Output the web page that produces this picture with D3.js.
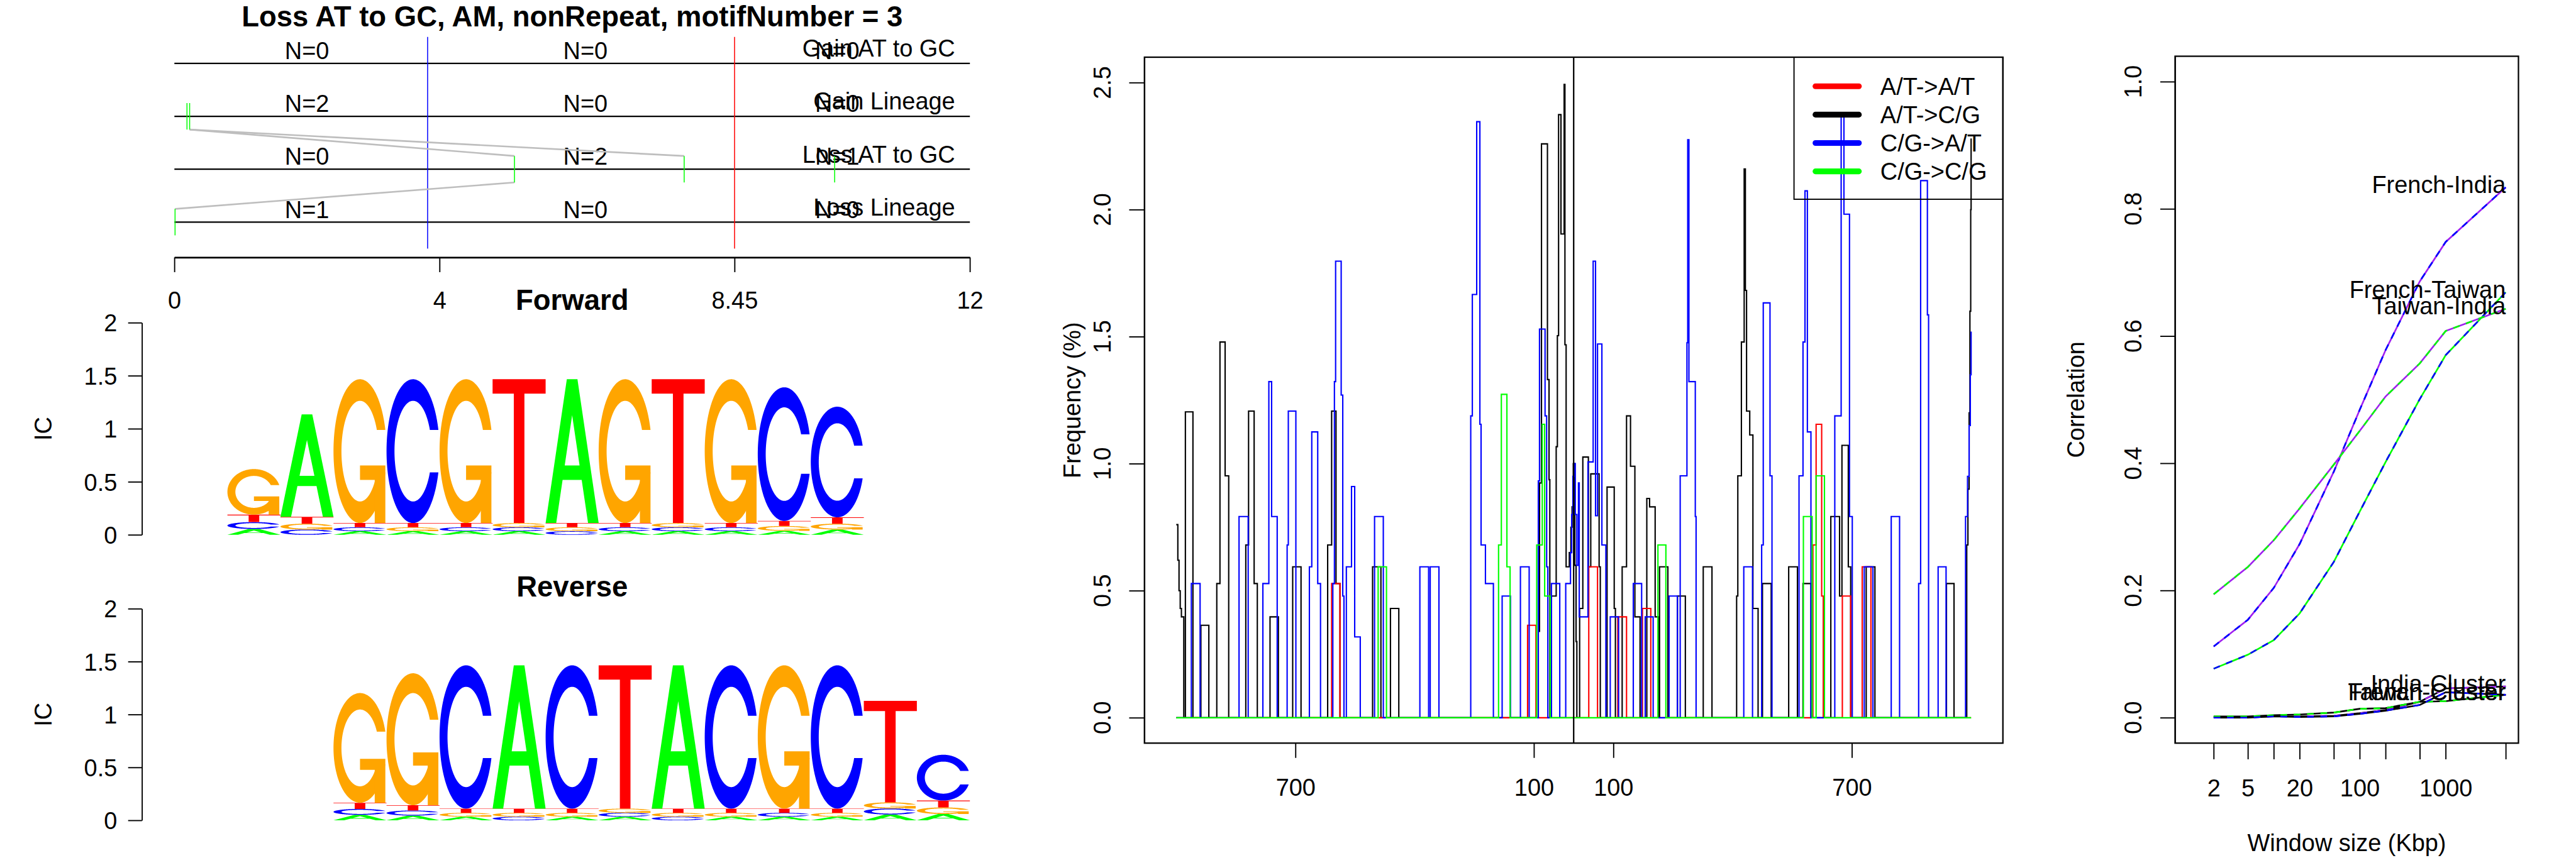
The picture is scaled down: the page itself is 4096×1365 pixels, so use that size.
<!DOCTYPE html>
<html>
<head>
<meta charset="utf-8">
<script src="https://cdn.jsdelivr.net/npm/d3@7"></script>
<style>
  html, body { margin: 0; padding: 0; background: #ffffff; }
  svg { display: block; }
  text { font-family: "Liberation Sans", Arial, Helvetica, sans-serif; fill: #000; }
</style>
</head>
<body>
<svg id="chart" width="4096" height="1365" viewBox="0 0 5400 1800"></svg>
<script>
// ===================== DATA =====================
// Panel 1: motif events
const mainTitle = "Loss AT to GC, AM, nonRepeat, motifNumber = 3";
const eventRows = ["Gain AT to GC", "Gain Lineage", "Loss AT to GC", "Loss Lineage"];
const eventCounts = [[0, 0, 0], [2, 0, 0], [0, 2, 1], [1, 0, 0]];
const eventPositions = [[], [0.19, 0.23], [5.13, 7.69, 9.96], [0.01]];
const eventLinks = [[1, 0.23, 2, 5.13], [1, 0.23, 2, 7.69], [2, 5.13, 3, 0.01]];
const eventAxisTicks = [0, 4, 8.45, 12];
const boundaryBlue = 3.82;
const boundaryRed = 8.45;

// Panel 1: sequence logos (information content per base, 12 positions)
const logoTicks = [0, 0.5, 1, 1.5, 2];
const fwdA = [0.055, 0.965, 0.034, 0.034, 0.034, 0.034, 1.356, 0.034, 0.034, 0.034, 0.038, 0.050];
const fwdC = [0.065, 0.050, 0.037, 1.356, 0.037, 0.037, 0.034, 0.037, 0.037, 0.037, 1.260, 1.043];
const fwdG = [0.430, 0.055, 1.356, 0.037, 1.356, 0.040, 0.037, 1.356, 0.040, 1.356, 0.045, 0.055];
const fwdT = [0.070, 0.065, 0.040, 0.040, 0.040, 1.356, 0.040, 0.040, 1.356, 0.040, 0.048, 0.060];
const revA = [0.052, 0.045, 0.034, 1.354, 0.034, 0.034, 1.354, 0.034, 0.034, 0.034, 0.055, 0.060];
const revC = [0.056, 0.048, 1.354, 0.034, 1.354, 0.037, 0.034, 1.354, 0.037, 1.354, 0.057, 0.433];
const revG = [1.037, 1.247, 0.037, 0.037, 0.037, 0.040, 0.037, 0.037, 1.354, 0.037, 0.058, 0.062];
const revT = [0.058, 0.050, 0.040, 0.040, 0.040, 1.354, 0.040, 0.040, 0.040, 0.040, 0.959, 0.065];

// Panel 2: frequency step series  [position, frequency %]
const freqLabels = ["A/T->A/T", "A/T->C/G", "C/G->A/T", "C/G->C/G"];
const freqYTicks = [0, 0.5, 1, 1.5, 2, 2.5];
const freqXTicks = [-700, -100, 100, 700];
const stepsATtoAT = [[-1000,0],[-609,0.528],[-588,0],[-116,0.364],[-95,0],[38,0.594],[60,0],[111,0.397],[133,0],[173,0.43],[194,0],[602,0.68],[610,1.155],[624,0.479],[628,0],[676,0.479],[697,0],[726,0.594],[748,0],[1000,0]];
const stepsATtoCG = [[-1000,0.76],[-996,0.62],[-993,0.5],[-990,0.43],[-987,0.397],[-981,0],[-977,1.204],[-958,0],[-938,0.364],[-918,0],[-898,0.528],[-890,1.479],[-877,0.952],[-868,0],[-825,0.68],[-818,1.207],[-804,0.528],[-796,0],[-764,0.397],[-743,0],[-707,0.594],[-686,0],[-619,0.68],[-609,1.207],[-598,0.528],[-588,0],[-506,0.594],[-485,0],[-461,0.43],[-440,0],[-89,0.34],[-86,0.924],[-81,2.259],[-66,1.331],[-62,0.937],[-60,0],[-56,0.479],[-44,1.067],[-41,1.504],[-38,2.374],[-32,1.904],[-24,2.493],[-22,1.468],[-19,0.594],[-11,0.65],[-7,0.75],[-4,0.83],[-1,1.0],[3,0.6],[6,0.3],[8,0],[15,0.43],[23,1.026],[37,0.594],[43,0.96],[64,0.594],[67,0],[84,0.908],[102,0.43],[105,0],[122,0.594],[133,1.188],[143,0.99],[154,0.397],[167,0],[184,0.863],[191,0.83],[205,0.397],[213,0],[216,0.594],[237,0],[261,0.479],[281,0],[326,0.594],[348,0],[410,0.479],[413,0.952],[422,1.479],[429,2.16],[432,1.682],[435,1.207],[443,1.113],[451,0.43],[464,0],[475,0.528],[497,0],[541,0.594],[563,0],[577,0.528],[597,0],[647,0.792],[669,0.479],[675,1.072],[691,0.594],[697,0],[736,0.594],[758,0],[938,0.528],[957,0],[989,0.68],[992,0.9],[995,1.2],[997,1.6],[999,2.0],[1000,2.28]];
const stepsCGtoAT = [[-1000,0],[-962,0.528],[-940,0],[-842,0.792],[-819,0],[-782,0.528],[-767,1.323],[-760,0.792],[-746,0],[-721,0.68],[-718,1.207],[-699,0],[-665,0.594],[-659,1.125],[-644,0.528],[-637,0],[-606,0.528],[-602,1.323],[-599,1.797],[-585,1.27],[-581,0.479],[-578,0],[-572,0.594],[-559,0.91],[-551,0.318],[-537,0],[-501,0.792],[-479,0],[-387,0.594],[-365,0],[-361,0.594],[-339,0],[-259,1.188],[-255,1.666],[-244,2.346],[-236,1.155],[-233,0.68],[-222,0.528],[-202,0],[-180,0.479],[-159,0],[-134,0.594],[-112,0],[-89,0.932],[-86,1.53],[-72,1.188],[-68,0.594],[-65,0],[-56,0.528],[-35,0],[-20,0.528],[-8,0.65],[-5,0.8],[-2,0.95],[1,1.0],[4,0.8],[8,0.6],[12,0.924],[14,0.397],[36,1.007],[49,1.797],[55,0.795],[60,1.471],[71,0.68],[81,0],[92,0.397],[113,0],[150,0.528],[171,0],[180,0.397],[200,0],[240,0.479],[261,0],[268,0.952],[285,1.476],[287,2.275],[290,1.323],[306,0.792],[308,0],[428,0.594],[450,0],[473,0.68],[477,1.633],[494,0.952],[499,0],[567,0.952],[577,1.479],[582,2.074],[588,1.125],[597,0],[657,1.188],[673,2.382],[680,1.982],[694,0.792],[701,0],[731,0.594],[753,0],[799,0.792],[820,0],[868,0.528],[873,2.114],[890,1.586],[893,0],[917,0.594],[937,0],[986,0.792],[991,0.95],[995,1.15],[998,1.35],[1000,1.52]];
const stepsCGtoCG = [[-1000,0],[-492,0.594],[-471,0],[-189,0.68],[-182,1.273],[-168,0.594],[-160,0],[-93,0.68],[-79,1.155],[-73,0.479],[-59,0],[212,0.68],[232,0],[578,0.792],[600,0],[610,0.952],[631,0],[1000,0]];

// Panel 3: correlation vs window size
const windowSizes = [2, 5, 10, 20, 50, 100, 200, 500, 1000, 5000];
const windowTickLabels = [2, 5, 20, 100, 1000];
const corrYTicks = [0, 0.2, 0.4, 0.6, 0.8, 1.0];
const corrFrenchIndia   = [0.112, 0.154, 0.204, 0.273, 0.387, 0.484, 0.578, 0.686, 0.748, 0.834];
const corrFrenchTaiwan  = [0.077, 0.099, 0.122, 0.164, 0.245, 0.324, 0.402, 0.501, 0.570, 0.669];
const corrTaiwanIndia   = [0.194, 0.237, 0.279, 0.329, 0.398, 0.451, 0.505, 0.557, 0.608, 0.643];
const corrIndiaCluster  = [0.001, 0.001, 0.002, 0.002, 0.003, 0.007, 0.012, 0.025, 0.046, 0.049];
const corrTaiwanCluster = [0.002, 0.002, 0.004, 0.005, 0.008, 0.014, 0.015, 0.025, 0.026, 0.036];
const corrFrenchCluster = [0.000, 0.000, 0.002, 0.001, 0.002, 0.006, 0.011, 0.020, 0.040, 0.036];

// ===================== DRAWING =====================
const FONT = "'Liberation Sans', Arial, Helvetica, sans-serif";
const svg = d3.select("#chart");
svg.append("rect").attr("x", 0).attr("y", 0).attr("width", 5400).attr("height", 1800).attr("fill", "#fff");

function styleAxis(g, fs) {
  g.attr("font-family", FONT).attr("font-size", fs);
  g.selectAll(".tick line").attr("stroke", "#000").attr("stroke-width", 2.5);
  g.selectAll(".domain").attr("stroke", "#000").attr("stroke-width", 2.5);
  g.selectAll("text").attr("fill", "#000");
}

// ---------- Panel 1: events ----------
const px = d3.scaleLinear().domain([0, 12]).range([365, 2033]);
const rowY = d3.scaleLinear().domain([0, 3]).range([133, 466]);
const g1 = svg.append("g");

g1.append("text").attr("x", (px(0) + px(12)) / 2).attr("y", 55)
  .attr("text-anchor", "middle").attr("font-weight", "bold").attr("font-size", 60).text(mainTitle);

eventRows.forEach((name, r) => {
  g1.append("line").attr("x1", px(0)).attr("x2", px(12)).attr("y1", rowY(r)).attr("y2", rowY(r))
    .attr("stroke", "#000").attr("stroke-width", 3);
});
[[boundaryBlue, "#0000FF"], [boundaryRed, "#FF0000"]].forEach(([v, c]) => {
  g1.append("line").attr("x1", px(v)).attr("x2", px(v)).attr("y1", rowY(-0.5)).attr("y2", rowY(3.5))
    .attr("stroke", c).attr("stroke-width", 2);
});
const countLabelPos = [2, 6.2, 10];
eventCounts.forEach((row, r) => row.forEach((n, k) => {
  g1.append("text").attr("x", px(countLabelPos[k])).attr("y", rowY(r) - 9)
    .attr("text-anchor", "middle").attr("font-size", 50).text("N=" + n);
}));
eventRows.forEach((name, r) => {
  g1.append("text").attr("x", px(12) - 31).attr("y", rowY(r) - 14)
    .attr("text-anchor", "end").attr("font-size", 50).text(name);
});
eventLinks.forEach(([r1, x1, r2, x2]) => {
  g1.append("line").attr("x1", px(x1)).attr("y1", rowY(r1 + 0.25)).attr("x2", px(x2)).attr("y2", rowY(r2 - 0.25))
    .attr("stroke", "#BEBEBE").attr("stroke-width", 3.5);
});
eventPositions.forEach((arr, r) => arr.forEach(x => {
  g1.append("line").attr("x1", px(x)).attr("x2", px(x)).attr("y1", rowY(r - 0.25)).attr("y2", rowY(r + 0.25))
    .attr("stroke", "#00FF00").attr("stroke-width", 2);
}));
const ax1 = g1.append("g").attr("transform", "translate(0,540)")
  .call(d3.axisBottom(px).tickValues(eventAxisTicks).tickFormat(d => String(d)).tickSize(31).tickSizeOuter(0));
styleAxis(ax1, 50);
ax1.select(".domain").attr("stroke-width", 3.5);
ax1.selectAll("text").attr("y", 108).attr("dy", null);

// ---------- Panel 1: logos ----------
const baseColors = { A: "#00FF00", C: "#0000FF", G: "#FFA500", T: "#FF0000" };

function shapeA() {
  const xs = [0, 4, 6, 10, 8, 6.8, 3.2, 2, 0, 3.6, 5, 6.4, 3.6];
  const ys = [0, 10, 10, 0, 0, 3, 3, 0, 0, 4, 7.5, 4, 4];
  return [{ pts: xs.map((v, i) => [v / 10, ys[i] / 10]), rule: "evenodd" }];
}
function shapeT() {
  const xs = [0, 10, 10, 6, 6, 4, 4, 0];
  const ys = [10, 10, 9, 9, 0, 0, 9, 9];
  return [{ pts: xs.map((v, i) => [v / 10, ys[i] / 10]), rule: "nonzero" }];
}
function ringC() {
  const n = 100;
  const a1 = d3.range(n).map(k => 0.3 + Math.PI / 2 + (Math.PI / 2 - 0.3) * k / (n - 1));
  const a2 = d3.range(n).map(k => Math.PI + (Math.PI / 2) * k / (n - 1));
  const xl1 = a1.map(a => 0.5 + 0.5 * Math.sin(a)), yl1 = a1.map(a => 0.5 + 0.5 * Math.cos(a));
  const xl2 = a2.map(a => 0.5 + 0.5 * Math.sin(a)), yl2 = a2.map(a => 0.5 + 0.5 * Math.cos(a));
  const xl = xl1.concat(xl2), yl = yl1.concat(yl2);
  let x = xl.concat(xl.slice().reverse());
  let y = yl.concat(yl.slice().reverse().map(v => 1 - v));
  const maxY = d3.max(yl1);
  let xi1 = a1.map(a => 0.5 + 0.35 * Math.sin(a)), yi1 = a1.map(a => 0.5 + 0.35 * Math.cos(a));
  const keep = yi1.map(v => v <= maxY);
  xi1 = xi1.filter((_, i) => keep[i]); yi1 = yi1.filter((_, i) => keep[i]);
  yi1[0] = maxY;
  const xi2 = a2.map(a => 0.5 + 0.35 * Math.sin(a)), yi2 = a2.map(a => 0.5 + 0.35 * Math.cos(a));
  const xi = xi1.concat(xi2), yi = yi1.concat(yi2);
  const x1 = xi.concat(xi.slice().reverse());
  const y1 = yi.concat(yi.slice().reverse().map(v => 1 - v));
  x = x.concat(x1.slice().reverse()); y = y.concat(y1.slice().reverse());
  return { pts: x.map((v, i) => [v, y[i]]), r1: d3.max(xl1) };
}
function shapeC() { return [{ pts: ringC().pts, rule: "nonzero" }]; }
function shapeG() {
  const c = ringC(); const r1 = c.r1, h1 = 0.4;
  const xa = [r1, 0.5, 0.5, r1 - 0.2, r1 - 0.2, r1, r1];
  const ya = [h1, h1, h1 - 0.1, h1 - 0.1, 0, 0, h1];
  return [{ pts: c.pts, rule: "nonzero" }, { pts: xa.map((v, i) => [v, ya[i]]), rule: "nonzero" }];
}
const shapes = { A: shapeA(), C: shapeC(), G: shapeG(), T: shapeT() };

const lx = d3.scaleLinear().domain([0, 15]).range([365, 2033]);
function drawLogo(yScale, offset, hA, hC, hG, hT, title, titleY) {
  const g = svg.append("g");
  g.append("text").attr("x", (px(0) + px(12)) / 2).attr("y", titleY).attr("text-anchor", "middle")
    .attr("font-weight", "bold").attr("font-size", 60).text(title);
  const ax = g.append("g").attr("transform", "translate(297,0)")
    .call(d3.axisLeft(yScale).tickValues(logoTicks).tickFormat(d => String(d)).tickSize(29).tickPadding(23).tickSizeOuter(0));
  styleAxis(ax, 50);
  ax.selectAll("text").attr("dy", "0.36em");
  g.append("text").attr("transform", `translate(90,${yScale(1)}) rotate(-90)`).attr("text-anchor", "middle")
    .attr("dy", "0.35em").attr("font-size", 50).text("IC");
  hA.forEach((_, i) => {
    const col = [["A", hA[i]], ["C", hC[i]], ["G", hG[i]], ["T", hT[i]]].sort((a, b) => a[1] - b[1]);
    let base = 0;
    const x0 = lx(i + offset), w = lx(i + offset + 1) - lx(i + offset);
    col.forEach(([b, h]) => {
      const line = d3.line().x(p => x0 + p[0] * w).y(p => yScale(base + p[1] * h));
      shapes[b].forEach(sp => {
        g.append("path").attr("d", line(sp.pts) + "Z").attr("fill", baseColors[b])
          .attr("fill-rule", sp.rule).attr("stroke", "none");
      });
      base += h;
    });
  });
}
const fwdY = d3.scaleLinear().domain([0, 2]).range([1122, 677]);
const revY = d3.scaleLinear().domain([0, 2]).range([1721, 1277]);
drawLogo(fwdY, 1, fwdA, fwdC, fwdG, fwdT, "Forward", 650);
drawLogo(revY, 3, revA, revC, revG, revT, "Reverse", 1252);

// ---------- Panel 2: frequency ----------
const fx = d3.scaleLinear().domain([-1080, 1080]).range([2399, 4199]);
const fy = d3.scaleLinear().domain([-0.1, 2.6]).range([1559, 120]);
const g2 = svg.append("g");
const stepLine = d3.line().x(d => fx(d[0])).y(d => fy(d[1])).curve(d3.curveStepAfter);
const freqColors = ["#FF0000", "#000000", "#0000FF", "#00FF00"];
const freqSeries = [stepsATtoCG, stepsATtoAT, stepsCGtoAT, stepsCGtoCG];
const freqSeriesColors = ["#000000", "#FF0000", "#0000FF", "#00FF00"];
freqSeries.forEach((s, i) => {
  g2.append("path").attr("d", stepLine(s)).attr("fill", "none")
    .attr("stroke", freqSeriesColors[i]).attr("stroke-width", 2.8).attr("stroke-linejoin", "miter");
});
g2.append("line").attr("x1", fx(0)).attr("x2", fx(0)).attr("y1", fy(2.6)).attr("y2", fy(-0.1))
  .attr("stroke", "#000").attr("stroke-width", 3);
g2.append("rect").attr("x", fx(-1080)).attr("y", fy(2.6)).attr("width", fx(1080) - fx(-1080))
  .attr("height", fy(-0.1) - fy(2.6)).attr("fill", "none").attr("stroke", "#000").attr("stroke-width", 3);
const ay2 = g2.append("g").attr("transform", `translate(${fx(-1080)},0)`)
  .call(d3.axisLeft(fy).tickValues(freqYTicks).tickFormat("").tickSize(32).tickSizeOuter(0));
styleAxis(ay2, 50);
freqYTicks.forEach(v => {
  g2.append("text").attr("transform", `translate(2310,${fy(v)}) rotate(-90)`).attr("text-anchor", "middle")
    .attr("dy", "0.35em").attr("font-size", 50).text(d3.format(".1f")(v));
});
const ax2 = g2.append("g").attr("transform", `translate(0,${fy(-0.1)})`)
  .call(d3.axisBottom(fx).tickValues(freqXTicks).tickFormat(d => String(Math.abs(d))).tickSize(31).tickSizeOuter(0));
styleAxis(ax2, 50);
ax2.select(".domain").remove();
ax2.selectAll("text").attr("y", 110).attr("dy", null);
g2.append("text").attr("transform", `translate(2247,${(fy(2.6) + fy(-0.1)) / 2}) rotate(-90)`)
  .attr("text-anchor", "middle").attr("dy", "0.35em").attr("font-size", 50).text("Frequency (%)");
// legend
const lg = g2.append("g");
lg.append("rect").attr("x", 3761).attr("y", fy(2.6)).attr("width", fx(1080) - 3761).attr("height", 418 - fy(2.6))
  .attr("fill", "none").attr("stroke", "#000").attr("stroke-width", 2.5);
freqLabels.forEach((lab, i) => {
  const yy = 181 + i * 59.5;
  lg.append("line").attr("x1", 3806).attr("x2", 3897).attr("y1", yy).attr("y2", yy)
    .attr("stroke", freqColors[i]).attr("stroke-width", 12).attr("stroke-linecap", "round");
  lg.append("text").attr("x", 3942).attr("y", yy).attr("dy", "0.35em").attr("font-size", 50).text(lab);
});

// ---------- Panel 3: correlation ----------
const cx = d3.scaleLog().domain([Math.pow(10, -0.148), Math.pow(10, 3.847)]).range([4560, 5280]);
const cy = d3.scaleLinear().domain([-0.04, 1.04]).range([1559, 118]);
const g3 = svg.append("g");
const corrSeries = [
  { name: "French-India", v: corrFrenchIndia, c1: "#A020F0", c2: "#0000FF" },
  { name: "French-Taiwan", v: corrFrenchTaiwan, c1: "#00FF00", c2: "#0000FF" },
  { name: "Taiwan-India", v: corrTaiwanIndia, c1: "#A020F0", c2: "#00FF00" },
  { name: "India-Cluster", v: corrIndiaCluster, c1: "#000000", c2: "#A020F0" },
  { name: "Taiwan-Cluster", v: corrTaiwanCluster, c1: "#000000", c2: "#00FF00" },
  { name: "French-Cluster", v: corrFrenchCluster, c1: "#000000", c2: "#0000FF" }
];
const corrLine = d3.line().x(d => cx(d[0])).y(d => cy(d[1]));
corrSeries.forEach(s => {
  const pts = windowSizes.map((w, i) => [w, s.v[i]]);
  g3.append("path").attr("d", corrLine(pts)).attr("fill", "none").attr("stroke", s.c1).attr("stroke-width", 3.5);
  g3.append("path").attr("d", corrLine(pts)).attr("fill", "none").attr("stroke", s.c2).attr("stroke-width", 3.5)
    .attr("stroke-dasharray", "14,14");
});
corrSeries.forEach(s => {
  g3.append("text").attr("x", cx(windowSizes[windowSizes.length - 1])).attr("y", cy(s.v[s.v.length - 1]) - 6)
    .attr("dy", "0.35em").attr("text-anchor", "end").attr("font-size", 50).text(s.name);
});
g3.append("rect").attr("x", 4560).attr("y", cy(1.04)).attr("width", 720).attr("height", cy(-0.04) - cy(1.04))
  .attr("fill", "none").attr("stroke", "#000").attr("stroke-width", 3);
const ay3 = g3.append("g").attr("transform", "translate(4560,0)")
  .call(d3.axisLeft(cy).tickValues(corrYTicks).tickFormat("").tickSize(31).tickSizeOuter(0));
styleAxis(ay3, 50);
corrYTicks.forEach(v => {
  g3.append("text").attr("transform", `translate(4472,${cy(v)}) rotate(-90)`).attr("text-anchor", "middle")
    .attr("dy", "0.35em").attr("font-size", 50).text(d3.format(".1f")(v));
});
const ax3 = g3.append("g").attr("transform", `translate(0,${cy(-0.04)})`)
  .call(d3.axisBottom(cx).tickValues(windowSizes).tickFormat(d => windowTickLabels.includes(d) ? String(d) : "")
    .tickSize(34).tickSizeOuter(0));
styleAxis(ax3, 50);
ax3.select(".domain").remove();
ax3.selectAll("text").attr("y", 112).attr("dy", null);
g3.append("text").attr("x", (4560 + 5280) / 2).attr("y", 1786).attr("text-anchor", "middle")
  .attr("font-size", 50).text("Window size (Kbp)");
g3.append("text").attr("transform", `translate(4352,${(cy(1.04) + cy(-0.04)) / 2}) rotate(-90)`)
  .attr("text-anchor", "middle").attr("dy", "0.35em").attr("font-size", 50).text("Correlation");
</script>
</body>
</html>
